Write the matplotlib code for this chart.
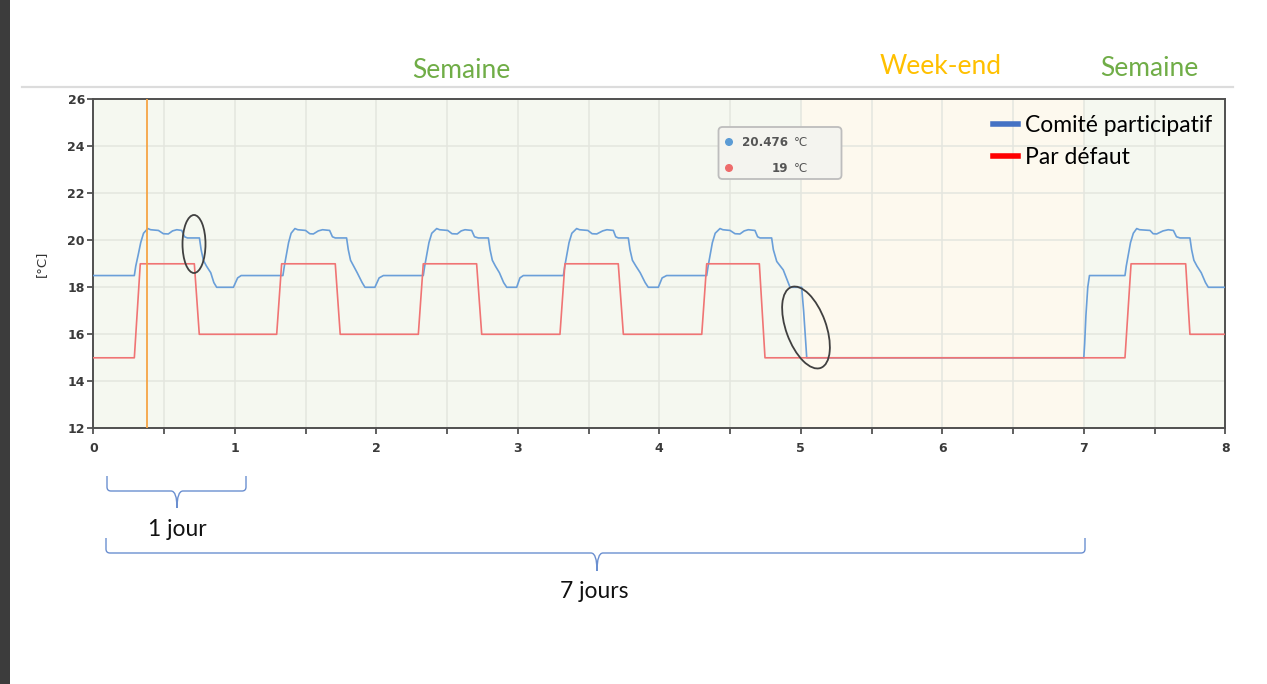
import matplotlib
matplotlib.use("Agg")
import matplotlib.pyplot as plt
from matplotlib.patches import Ellipse, FancyBboxPatch, PathPatch, Circle, Rectangle
from matplotlib.path import Path
from matplotlib.lines import Line2D
from matplotlib.transforms import IdentityTransform

# ---------------- data ----------------
series_names = ["Comité participatif", "Par défaut"]

# Comité participatif (blue): time [days], temperature [°C]
blue_t = [0.000, 0.290, 0.300, 0.318, 0.335, 0.355, 0.385, 0.405, 0.460, 0.495, 0.530, 0.560, 0.590, 0.625, 0.645, 0.665, 0.750, 0.762, 0.778, 0.800, 0.830, 0.852, 0.872, 0.990, 1.020, 1.045,
          1.340, 1.350, 1.365, 1.380, 1.398, 1.425, 1.445, 1.500, 1.530, 1.555, 1.590, 1.620, 1.670, 1.690, 1.710, 1.790, 1.802, 1.818, 1.840, 1.865, 1.900, 1.920, 1.990, 2.020, 2.050,
          2.332, 2.342, 2.357, 2.372, 2.392, 2.427, 2.447, 2.505, 2.535, 2.572, 2.600, 2.627, 2.674, 2.694, 2.721, 2.792, 2.804, 2.820, 2.842, 2.870, 2.900, 2.922, 2.992, 3.015, 3.039,
          3.322, 3.332, 3.347, 3.362, 3.382, 3.416, 3.436, 3.495, 3.525, 3.558, 3.600, 3.630, 3.675, 3.692, 3.710, 3.781, 3.793, 3.810, 3.835, 3.865, 3.900, 3.922, 3.993, 4.020, 4.052,
          4.335, 4.345, 4.360, 4.375, 4.395, 4.429, 4.449, 4.500, 4.535, 4.570, 4.600, 4.629, 4.676, 4.695, 4.712, 4.794, 4.806, 4.830, 4.876, 4.905, 4.924, 5.006, 5.020, 5.042,
          7.000, 7.006, 7.015, 7.028, 7.040, 7.291, 7.300, 7.315, 7.330, 7.350, 7.374, 7.394, 7.468, 7.490, 7.515, 7.560, 7.597, 7.633, 7.655, 7.680, 7.750, 7.762, 7.778, 7.800, 7.830, 7.860, 7.880, 8.000]
blue_v = [18.5, 18.5, 18.9, 19.4, 19.9, 20.3, 20.5, 20.45, 20.42, 20.28, 20.27, 20.40, 20.45, 20.42, 20.15, 20.10, 20.10, 19.60, 19.15, 18.90, 18.62, 18.20, 18.00, 18.00, 18.40, 18.50,
          18.5, 18.9, 19.4, 19.9, 20.3, 20.5, 20.45, 20.42, 20.28, 20.27, 20.40, 20.45, 20.42, 20.15, 20.10, 20.10, 19.60, 19.15, 18.90, 18.62, 18.20, 18.00, 18.00, 18.40, 18.50,
          18.5, 18.9, 19.4, 19.9, 20.3, 20.5, 20.45, 20.42, 20.28, 20.27, 20.40, 20.45, 20.42, 20.15, 20.10, 20.10, 19.60, 19.15, 18.90, 18.62, 18.20, 18.00, 18.00, 18.40, 18.50,
          18.5, 18.9, 19.4, 19.9, 20.3, 20.5, 20.45, 20.42, 20.28, 20.27, 20.40, 20.45, 20.42, 20.15, 20.10, 20.10, 19.60, 19.15, 18.90, 18.62, 18.20, 18.00, 18.00, 18.40, 18.50,
          18.5, 18.9, 19.4, 19.9, 20.3, 20.5, 20.45, 20.42, 20.28, 20.27, 20.40, 20.45, 20.42, 20.15, 20.10, 20.10, 19.60, 19.10, 18.74, 18.30, 18.00, 18.00, 17.00, 15.00,
          15.00, 15.60, 16.80, 18.00, 18.50, 18.50, 18.9, 19.4, 19.9, 20.3, 20.5, 20.45, 20.42, 20.28, 20.27, 20.40, 20.45, 20.42, 20.15, 20.10, 20.10, 19.60, 19.15, 18.90, 18.62, 18.20, 18.00, 18.00]

# Par défaut (red)
red_t = [0.000, 0.290, 0.332, 0.714, 0.749, 1.296, 1.331, 1.710, 1.745, 2.297, 2.332, 2.709, 2.745,
         3.298, 3.333, 3.710, 3.746, 4.300, 4.335, 4.707, 4.747, 7.291, 7.334, 7.720, 7.750, 8.000]
red_v = [15, 15, 19, 19, 16, 16, 19, 19, 16, 16, 19, 19, 16,
         16, 19, 19, 16, 16, 19, 19, 15, 15, 19, 19, 16, 16]

x_ticks = [0, 1, 2, 3, 4, 5, 6, 7, 8]
y_ticks = [12, 14, 16, 18, 20, 22, 24, 26]
period_labels = ["Semaine", "Week-end", "Semaine"]
tooltip_values = ["20.476", "19"]
tooltip_unit = "°C"
cursor_day = 0.382
weekend_span = (5, 7)
brace_labels = ["1 jour", "7 jours"]

# ---------------- style / layout ----------------
W, H = 1267, 684
BLUE_LINE = "#6a9fd9"
RED_LINE = "#f07474"
GREEN_TXT = "#70ad47"
GOLD_TXT = "#ffc000"
TXT_FONT = ["Lato", "DejaVu Sans"]

fig = plt.figure(figsize=(W / 100, H / 100), dpi=100)
fig.patch.set_facecolor("white")


def fx(x):
    return x / W


def fy(y):
    return 1 - y / H


def disp(x, y):
    # pixel (from top-left) -> display coords
    return (x, H - y)


ax_l, ax_r, ax_t, ax_b = 93.3, 1225.3, 99.3, 428.3
ax = fig.add_axes([fx(ax_l), fy(ax_b), fx(ax_r - ax_l), (ax_b - ax_t) / H])
ax.set_facecolor("#f5f8f0")
ax.set_xlim(0, 8)
ax.set_ylim(12, 26)
ax.axvspan(weekend_span[0], weekend_span[1], color="#fdf9ee", zorder=0, lw=0)

ax.set_xticks(x_ticks)
ax.set_xticks([t + 0.5 for t in x_ticks[:-1]], minor=True)
ax.set_yticks(y_ticks)
ax.grid(True, which="both", axis="x", color="#e4e6df", lw=1.1, zorder=0.5)
ax.grid(True, which="major", axis="y", color="#e4e6df", lw=1.1, zorder=0.5)
ax.set_axisbelow(True)
ax.tick_params(axis="both", which="both", direction="out", length=4, width=1.2,
               color="#444444", labelsize=9, labelcolor="#3a3a3a")
ax.tick_params(axis="x", which="both", pad=6)
ax.tick_params(axis="y", pad=2)
for lab in ax.get_xticklabels() + ax.get_yticklabels():
    lab.set_fontweight("bold")
    lab.set_family("DejaVu Sans")
for sp in ax.spines.values():
    sp.set_color("#505050")
    sp.set_linewidth(1.4)
ax.set_ylabel("[°C]", fontsize=9.5, color="#333333", labelpad=14)

# data lines
ax.plot(blue_t, blue_v, color=BLUE_LINE, lw=1.2, zorder=3)
ax.plot(red_t, red_v, color=RED_LINE, lw=1.2, zorder=4)
ax.axvline(cursor_day, color="#f5a445", lw=1.3, zorder=5)

# legend
handles = [Line2D([0], [0], color="#4472c4", lw=4), Line2D([0], [0], color="#ff0000", lw=4)]
leg = fig.legend(handles, series_names, loc="upper left", bbox_to_anchor=(fx(993), fy(115)),
                 bbox_transform=fig.transFigure, frameon=False,
                 handlelength=1.1, handletextpad=0.3, labelspacing=0.5,
                 borderpad=0, borderaxespad=0, prop={"family": TXT_FONT, "size": 16.5})

# period labels
fig.text(fx(461), fy(71), period_labels[0], color=GREEN_TXT, fontsize=19, family=TXT_FONT, ha="center", va="center")
fig.text(fx(941), fy(66), period_labels[1], color=GOLD_TXT, fontsize=19, family=TXT_FONT, ha="center", va="center")
fig.text(fx(1149), fy(69), period_labels[2], color=GREEN_TXT, fontsize=19, family=TXT_FONT, ha="center", va="center")

# top separator line and left dark strip
fig.add_artist(Line2D([fx(22), fx(1233)], [fy(87), fy(87)], color="#dcdcdc", lw=1.6, transform=fig.transFigure))
fig.add_artist(Rectangle((0, 0), fx(10), 1, color="#3c3c3c", transform=fig.transFigure, lw=0))

# tooltip
idt = IdentityTransform()
box = FancyBboxPatch(disp(718.5, 179), 123, 52, boxstyle="round,pad=0,rounding_size=4",
                     facecolor="#f4f4ef", edgecolor="#bdbdbd", lw=1.3, transform=idt, zorder=10)
fig.add_artist(box)
fig.add_artist(Circle(disp(729, 142), 3.3, color="#5b9bd5", transform=idt, zorder=11))
fig.add_artist(Circle(disp(729, 168), 3.3, color="#ee6b6b", transform=idt, zorder=11))
fig.text(fx(788), fy(142), tooltip_values[0], ha="right", va="center", fontsize=8.6,
         fontweight="bold", color="#555555", zorder=12)
fig.text(fx(788), fy(168), tooltip_values[1], ha="right", va="center", fontsize=8.6,
         fontweight="bold", color="#555555", zorder=12)
fig.text(fx(794), fy(142), tooltip_unit, ha="left", va="center", fontsize=8.6, color="#555555", zorder=12)
fig.text(fx(794), fy(168), tooltip_unit, ha="left", va="center", fontsize=8.6, color="#555555", zorder=12)

# ellipses
fig.add_artist(Ellipse(disp(194, 244), 23, 58, angle=0, fill=False, edgecolor="#404040", lw=1.3, transform=idt, zorder=12))
fig.add_artist(Ellipse(disp(806, 327.5), 40, 86, angle=20, fill=False, edgecolor="#404040", lw=1.3, transform=idt, zorder=12))


# braces
def brace(x0, x1, xc, ytop, ymid, ytip, r=4, rt=6):
    verts = [disp(x0, ytop), disp(x0, ymid - r), disp(x0, ymid), disp(x0 + r, ymid),
             disp(xc - rt, ymid), disp(xc, ymid), disp(xc, ytip),
             disp(xc, ytip), disp(xc, ymid), disp(xc + rt, ymid),
             disp(x1 - r, ymid), disp(x1, ymid), disp(x1, ymid - r), disp(x1, ytop)]
    codes = [Path.MOVETO, Path.LINETO, Path.CURVE3, Path.CURVE3,
             Path.LINETO, Path.CURVE3, Path.CURVE3,
             Path.MOVETO, Path.CURVE3, Path.CURVE3,
             Path.LINETO, Path.CURVE3, Path.CURVE3, Path.LINETO]
    fig.add_artist(PathPatch(Path(verts, codes), fill=False, edgecolor="#6b8fd0", lw=1.0, transform=idt))


brace(107, 246, 177, 476, 491, 508)
brace(106, 1085, 597, 538, 553, 571)
fig.text(fx(177), fy(530), brace_labels[0], fontsize=16.5, family=TXT_FONT, color="#111111", ha="center", va="center")
fig.text(fx(594), fy(592), brace_labels[1], fontsize=16.5, family=TXT_FONT, color="#111111", ha="center", va="center")

fig.savefig("out.png", dpi=100, facecolor="white")
